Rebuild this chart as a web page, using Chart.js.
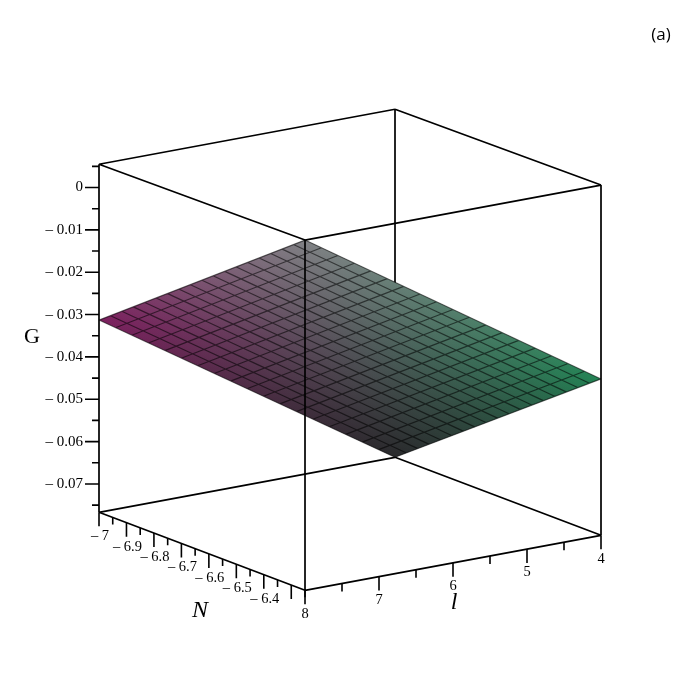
<!DOCTYPE html>
<html lang="en">
<head>
    <meta charset="UTF-8">
    <title>G surface over N and l</title>
    <script src="https://cdn.jsdelivr.net/npm/chart.js"></script>
    <style>
        body { margin: 0; background: #fff; }
        canvas { display: block; }
    </style>
</head>
<body>
    <canvas id="chart" width="700" height="700"></canvas>

    <script>
        // axis ranges and ticks
        const lRange = [4, 8];
        const nRange = [-7, -6.25];
        const gRange = [-0.0767, 0.0055];

        const gMajorTicks = [0, -0.01, -0.02, -0.03, -0.04, -0.05, -0.06, -0.07];
        const gMinorTicks = [0.005, -0.005, -0.015, -0.025, -0.035, -0.045, -0.055, -0.065, -0.075];
        const gTickLabels = ['0', '\u2013 0.01', '\u2013 0.02', '\u2013 0.03', '\u2013 0.04', '\u2013 0.05', '\u2013 0.06', '\u2013 0.07'];

        const nMajorTicks = [-7, -6.9, -6.8, -6.7, -6.6, -6.5, -6.4, -6.3];
        const nMinorTicks = [-6.95, -6.85, -6.75, -6.65, -6.55, -6.45, -6.35, -6.25];
        const nTickLabels = ['\u2013 7', '\u2013 6.9', '\u2013 6.8', '\u2013 6.7', '\u2013 6.6', '\u2013 6.5', '\u2013 6.4'];

        const lMajorTicks = [8, 7, 6, 5, 4];
        const lMinorTicks = [7.5, 6.5, 5.5, 4.5];
        const lTickLabels = ['8', '7', '6', '5', '4'];

        // mesh lines of the surface
        const lMesh = [4, 4.222, 4.444, 4.667, 4.889, 5.111, 5.333, 5.556, 5.778, 6, 6.222, 6.444, 6.667, 6.889, 7.111, 7.333, 7.556, 7.778, 8];
        const nMesh = [-7, -6.958, -6.917, -6.875, -6.833, -6.792, -6.75, -6.708, -6.667, -6.625, -6.583, -6.542, -6.5, -6.458, -6.417, -6.375, -6.333, -6.292, -6.25];

        // G read along the four edges of the surface
        const gAtNmin = [-0.0767, -0.07418, -0.07166, -0.06913, -0.06661, -0.06409, -0.06157, -0.05904, -0.05652, -0.054, -0.05148, -0.04896, -0.04643, -0.04391, -0.04139, -0.03887, -0.03634, -0.03382, -0.0313];
        const gAtNmax = [-0.04, -0.03747, -0.03494, -0.03242, -0.02989, -0.02736, -0.02483, -0.0223, -0.01978, -0.01725, -0.01472, -0.01219, -0.00967, -0.00714, -0.00461, -0.00208, 0.00044, 0.00297, 0.0055];
        const gAtLmin = [-0.0767, -0.07466, -0.07262, -0.07058, -0.06854, -0.0665, -0.06447, -0.06243, -0.06039, -0.05835, -0.05631, -0.05427, -0.05223, -0.05019, -0.04815, -0.04612, -0.04408, -0.04204, -0.04];
        const gAtLmax = [-0.0313, -0.02926, -0.02721, -0.02517, -0.02312, -0.02108, -0.01903, -0.01699, -0.01494, -0.0129, -0.01086, -0.00881, -0.00677, -0.00472, -0.00268, -0.00063, 0.00141, 0.00346, 0.0055];

        // fixed view of the box, close to what the plot uses
        function project(l, n, g) {
            const dn = n - nRange[0];
            const dl = lRange[1] - l;
            const floorY = 512.3 + dn * 104 - dl * 13.75;
            return {
                x: 99 + dn * 274.67 + dl * 74,
                y: floorY - (g - gRange[0]) * 4234 * (1 + dn * 0.0084)
            };
        }

        const segments = pairs => pairs.flatMap(p => [p[0], p[1], { x: NaN, y: NaN }]);

        function lineSet(data, order, width, color) {
            return { data, order, showLine: true, pointRadius: 0, borderWidth: width, borderColor: color, fill: false, spanGaps: false };
        }

        const [lLo, lHi] = lRange;
        const [nLo, nHi] = nRange;
        const [gLo, gHi] = gRange;

        const backLines = segments([
            [project(lLo, nLo, gHi), project(lLo, nLo, gLo)],
            [project(lHi, nLo, gLo), project(lLo, nLo, gLo)],
            [project(lLo, nLo, gLo), project(lLo, nHi, gLo)]
        ]);
        const frontLines = segments([
            [project(lHi, nLo, gHi), project(lLo, nLo, gHi)],
            [project(lLo, nLo, gHi), project(lLo, nHi, gHi)],
            [project(lHi, nLo, gHi), project(lHi, nHi, gHi)],
            [project(lHi, nHi, gHi), project(lLo, nHi, gHi)],
            [project(lHi, nLo, gLo), project(lHi, nHi, gLo)],
            [project(lHi, nHi, gLo), project(lLo, nHi, gLo)],
            [project(lHi, nLo, gHi), project(lHi, nLo, gLo)],
            [project(lHi, nHi, gHi), project(lHi, nHi, gLo)],
            [project(lLo, nHi, gHi), project(lLo, nHi, gLo)]
        ]);

        const gTick = (g, len) => {
            const p = project(lHi, nLo, g);
            return [p, { x: p.x - len, y: p.y }];
        };
        const floorTick = (l, n, len) => {
            const p = project(l, n, gLo);
            return [p, { x: p.x, y: p.y + len }];
        };
        const majorTicks = segments([
            ...gMajorTicks.map(g => gTick(g, 14)),
            ...nMajorTicks.map(n => floorTick(lHi, n, 14)),
            ...lMajorTicks.map(l => floorTick(l, nHi, 14))
        ]);
        const minorTicks = segments([
            ...gMinorTicks.map(g => gTick(g, 7)),
            ...nMinorTicks.map(n => floorTick(lHi, n, 7)),
            ...lMinorTicks.map(l => floorTick(l, nHi, 8))
        ]);

        const meshLines = segments([
            ...lMesh.map((l, i) => [project(l, nLo, gAtNmin[i]), project(l, nHi, gAtNmax[i])]),
            ...nMesh.map((n, j) => [project(lLo, n, gAtLmin[j]), project(lHi, n, gAtLmax[j])])
        ]);

        // surface corners: left, front (top on screen), right, back (bottom on screen)
        const lastMesh = lMesh.length - 1;
        const cLeft = project(lHi, nLo, gAtNmin[lastMesh]);
        const cTop = project(lHi, nHi, gAtNmax[lastMesh]);
        const cRight = project(lLo, nHi, gAtNmax[0]);
        const cBottom = project(lLo, nLo, gAtNmin[0]);
        const surface = [cLeft, cTop, cRight, cBottom, cLeft];

        // linear gradient from a to b with iso lines parallel to the direction iso
        function gradientAcross(chart, a, b, iso, stops) {
            const xs = chart.scales.x, ys = chart.scales.y;
            const ax = xs.getPixelForValue(a.x), ay = ys.getPixelForValue(a.y);
            const bx = xs.getPixelForValue(b.x), by = ys.getPixelForValue(b.y);
            if (!isFinite(ax + ay + bx + by)) return 'rgba(0,0,0,0)'; // scales not laid out yet
            const nx = -iso.y, ny = iso.x;
            const t = ((bx - ax) * nx + (by - ay) * ny) / (nx * nx + ny * ny);
            const grad = chart.ctx.createLinearGradient(ax, ay, ax + nx * t, ay + ny * t);
            stops.forEach(s => grad.addColorStop(s[0], s[1]));
            return grad;
        }

        const hueFill = ctx => gradientAcross(ctx.chart, cLeft, cRight,
            { x: cBottom.x - cTop.x, y: cBottom.y - cTop.y },
            [[0, 'rgb(125,32,95)'], [0.5, 'rgb(82,83,88)'], [1, 'rgb(35,132,85)']]);

        const shadeFill = ctx => gradientAcross(ctx.chart, cTop, cBottom,
            { x: cRight.x - cLeft.x, y: cRight.y - cLeft.y },
            [[0, 'rgba(255,255,255,0.27)'], [0.5, 'rgba(255,255,255,0)'], [0.5, 'rgba(0,0,0,0)'], [1, 'rgba(0,0,0,0.5)']]);

        const tickText = {
            id: 'tickText',
            afterDatasetsDraw(chart) {
                const c = chart.ctx, xs = chart.scales.x, ys = chart.scales.y;
                const put = (text, x, y, font, align) => {
                    c.font = font;
                    c.textAlign = align || 'center';
                    c.textBaseline = 'middle';
                    c.fillStyle = '#000';
                    c.fillText(text, x, y);
                };
                c.save();
                gMajorTicks.forEach((g, i) => {
                    const p = project(lHi, nLo, g);
                    put(gTickLabels[i], xs.getPixelForValue(p.x) - 16, ys.getPixelForValue(p.y), '15px "Liberation Serif"', 'right');
                });
                nTickLabels.forEach((t, i) => {
                    const p = project(lHi, nMajorTicks[i], gLo);
                    put(t, xs.getPixelForValue(p.x) + 1, ys.getPixelForValue(p.y) + 24, '14.5px "Liberation Serif"');
                });
                lTickLabels.forEach((t, i) => {
                    const p = project(lMajorTicks[i], nHi, gLo);
                    put(t, xs.getPixelForValue(p.x), ys.getPixelForValue(p.y) + 23.5, '14.5px "Liberation Serif"');
                });
                put('G', 32, 337, '22px "Liberation Serif"');
                put('N', 200, 611, 'italic 24px "Liberation Serif"');
                put('l', 454, 603, 'italic 24px "Liberation Serif"');
                put('(a)', 661, 35, '17px "Open Sans"');
                c.restore();
            }
        };

        new Chart(document.getElementById('chart'), {
            type: 'scatter',
            data: {
                datasets: [
                    lineSet(frontLines, 1, 1.7, '#000'),
                    lineSet(majorTicks, 2, 1.6, '#000'),
                    lineSet(minorTicks, 3, 1.6, '#000'),
                    lineSet(meshLines, 4, 1.2, 'rgba(0,0,0,0.55)'),
                    { data: surface, order: 5, showLine: true, pointRadius: 0, borderWidth: 0, fill: 'shape', backgroundColor: shadeFill },
                    { data: surface, order: 6, showLine: true, pointRadius: 0, borderWidth: 0, fill: 'shape', backgroundColor: hueFill },
                    lineSet(backLines, 7, 1.7, '#000')
                ]
            },
            options: {
                responsive: false,
                animation: false,
                layout: { padding: 0 },
                plugins: { legend: { display: false }, tooltip: { enabled: false } },
                scales: {
                    x: { type: 'linear', min: 0, max: 700, display: false },
                    y: { type: 'linear', min: 0, max: 700, reverse: true, display: false }
                }
            },
            plugins: [tickText]
        });
    </script>
</body>
</html>
